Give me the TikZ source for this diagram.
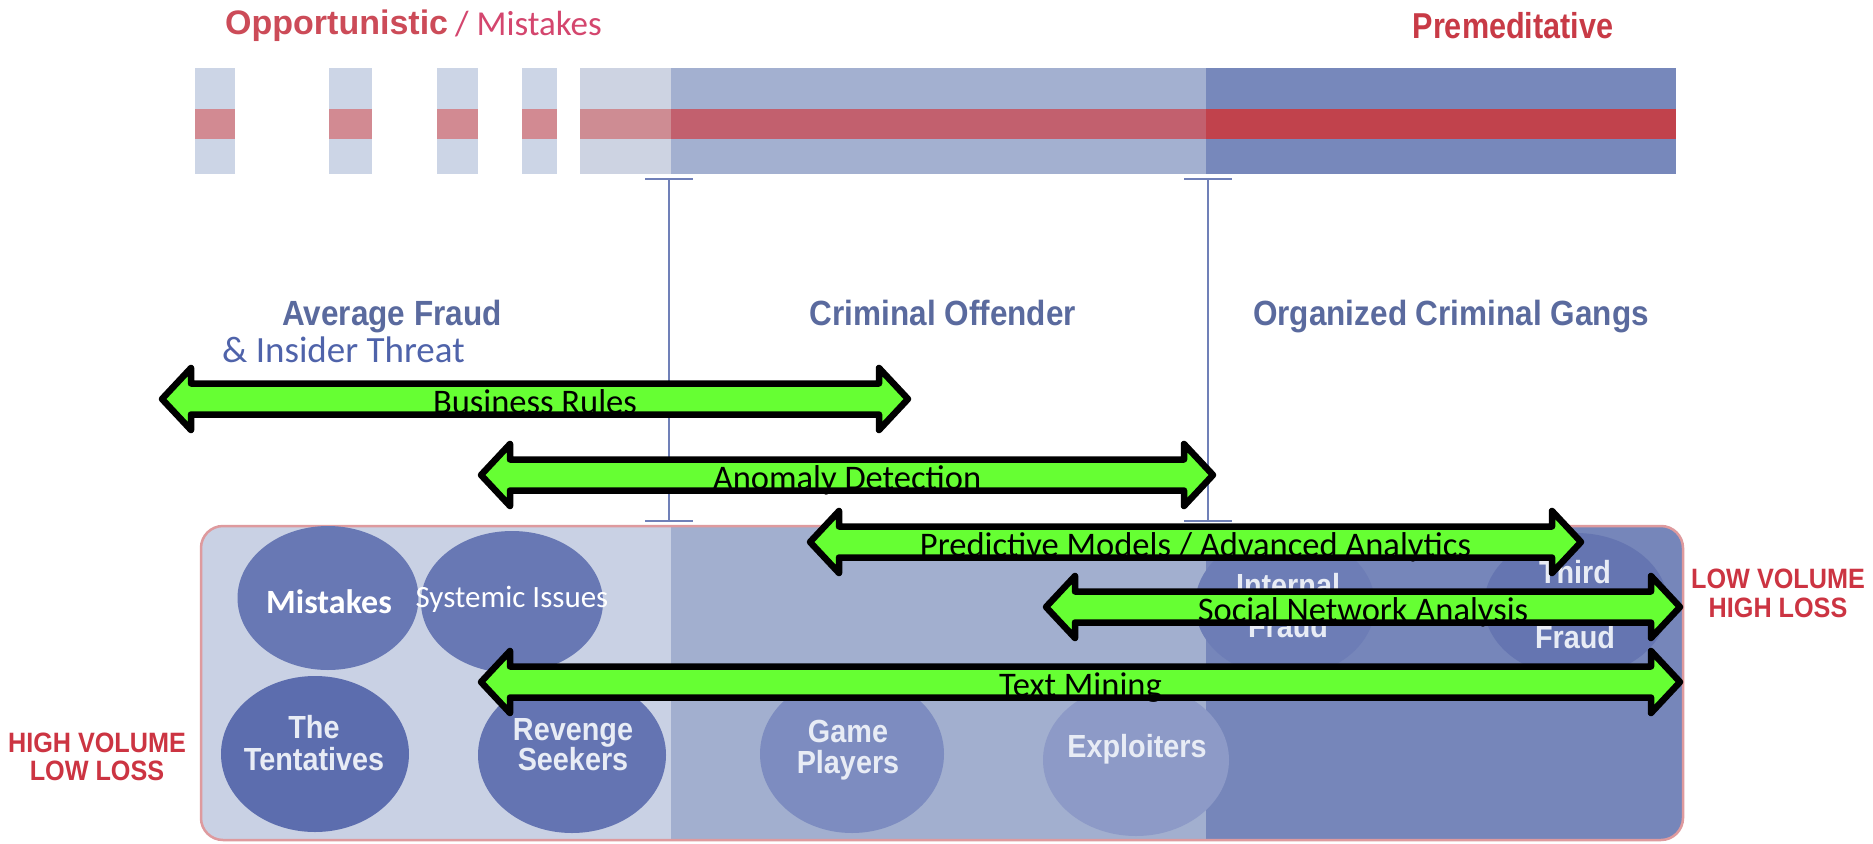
\documentclass[tikz,border=0pt]{standalone}
\usepackage{fontspec}
\usetikzlibrary{shapes.geometric}
\newfontfamily\calibrifont{Carlito}
\newfontfamily\narrowfont[FakeStretch=0.9]{Liberation Sans}
\newfontfamily\tallfont[FakeStretch=0.85]{Liberation Sans}
\newfontfamily\arialfont{Liberation Sans}

\definecolor{barlight}{HTML}{CCD5E6}
\definecolor{redlight}{HTML}{D28A92}
\definecolor{barfade}{HTML}{CDD3E2}
\definecolor{redfade}{HTML}{CE8C93}
\definecolor{barmid}{HTML}{A3B0D0}
\definecolor{redmid}{HTML}{C2606E}
\definecolor{bardark}{HTML}{7788BB}
\definecolor{reddark}{HTML}{C1424C}
\definecolor{boxlight}{HTML}{C9D1E4}
\definecolor{boxmid}{HTML}{A2AFCF}
\definecolor{boxdark}{HTML}{7686BA}
\definecolor{boxedge}{HTML}{DE9A9E}
\definecolor{tbar}{HTML}{7080B8}
\definecolor{catblue}{HTML}{5A6A9E}
\definecolor{insider}{HTML}{4F63AA}
\definecolor{oppred}{HTML}{CC4B58}
\definecolor{mistpink}{HTML}{D4466E}
\definecolor{premred}{HTML}{C83A46}
\definecolor{volred}{HTML}{CC3442}
\definecolor{arrowgreen}{HTML}{66FF33}
\definecolor{bubtop}{HTML}{6878B4}
\definecolor{bubtent}{HTML}{5C6DAE}
\definecolor{bubrev}{HTML}{6474B2}
\definecolor{bubgame}{HTML}{7D8CC0}
\definecolor{bubexp}{HTML}{8D9AC7}
\definecolor{bubint}{HTML}{6D7DB6}
\definecolor{bubthird}{HTML}{6575B1}
\definecolor{bubtxt}{HTML}{E8ECF5}

% double-headed green band with a centred caption
\newcommand{\greenband}[5]{%
  \draw[greenband] (#2+3,#4) -- (#2+32,#4-31) -- (#2+32,#4-15.5)
    -- (#3-32,#4-15.5) -- (#3-32,#4-31) -- (#3-3,#4)
    -- (#3-32,#4+31) -- (#3-32,#4+15.5) -- (#2+32,#4+15.5)
    -- (#2+32,#4+31) -- cycle;
  \node[bandtext] (#1) at ({(#2+#3)/2},#4+14) {#5};
}

\begin{document}
\begin{tikzpicture}[x=1pt,y=-1pt,
  greenband/.style={draw=black, line width=6.5pt, fill=arrowgreen, line join=round},
  bandtext/.style={anchor=base, inner sep=0, font=\calibrifont\fontsize{34.5}{37}\selectfont},
  catlabel/.style={anchor=base, inner sep=0, text=catblue, font=\narrowfont\bfseries\fontsize{35}{38}\selectfont},
  vollabel/.style={anchor=base, inner sep=0, text=volred, font=\narrowfont\bfseries\fontsize{28}{30}\selectfont},
  bubble/.style={ellipse, draw=none, inner sep=0},
  bubtext/.style={anchor=base, inner sep=0, text=bubtxt, font=\narrowfont\bfseries\fontsize{32}{34}\selectfont},
  tbarline/.style={draw=tbar, line width=2.5pt}
]
\useasboundingbox (0,0) rectangle (1873,843);
\fill[white] (0,0) rectangle (1873,843);

% ---- heading words
\node[anchor=base west, inner sep=0, text=oppred, font=\arialfont\bfseries\fontsize{34}{36}\selectfont] (opp) at (225,35) {Opportunistic};
\node[anchor=base west, inner sep=0, text=mistpink, font=\calibrifont\fontsize{35}{37}\selectfont] (mistop) at (455,36) {/ Mistakes};
\node[anchor=base, inner sep=0, text=premred, font=\tallfont\bfseries\fontsize{36}{38}\selectfont] (prem) at (1513,39) {Premeditative};

% ---- intensity bar
\foreach \a/\b in {195/235, 329/372, 437/478, 522/557}{
  \fill[barlight] (\a,68) rectangle (\b,174);
  \fill[redlight] (\a,109) rectangle (\b,139);
}
\fill[barfade] (580,68) rectangle (671,174);
\fill[redfade] (580,109) rectangle (671,139);
\fill[barmid] (671,68) rectangle (1206,174);
\fill[redmid] (671,109) rectangle (1206,139);
\fill[bardark] (1206,68) rectangle (1676,174);
\fill[reddark] (1206,109) rectangle (1676,139);

% ---- T-bar dividers
\coordinate (ta) at (669,179);
\coordinate (tb) at (669,521);
\coordinate (tc) at (1208,179);
\coordinate (td) at (1208,521);
\draw[tbarline] (ta) -- (tb);
\draw[tbarline] (tc) -- (td);
\foreach \p in {ta,tb,tc,td}{
  \draw[tbarline] ([xshift=-24pt]\p) -- ([xshift=24pt]\p);
}

% ---- category labels
\node[catlabel] (avg) at (392,325) {Average Fraud};
\node[catlabel] (crim) at (943,325) {Criminal Offender};
\node[catlabel] (org) at (1451,325) {Organized Criminal Gangs};
\node[anchor=base west, inner sep=0, text=insider, font=\calibrifont\fontsize{37}{40}\selectfont] (ins) at (222,362) {\& Insider Threat};

% ---- population panel
\begin{scope}
  \clip[rounded corners=22pt] (201,526) rectangle (1683,840);
  \fill[boxlight] (201,526) rectangle (671,840);
  \fill[boxmid] (671,526) rectangle (1206,840);
  \fill[boxdark] (1206,526) rectangle (1683,840);
\end{scope}
\draw[boxedge, line width=2.5pt, rounded corners=22pt] (201,526) rectangle (1683,840);

\node[bubble, fill=bubtop, minimum width=181pt, minimum height=144pt] (mis) at (328,598) {};
\node[bubble, fill=bubtop, minimum width=182pt, minimum height=142pt] (sys) at (512,602) {};
\node[bubble, fill=bubtent, minimum width=188pt, minimum height=156pt] (tent) at (315,754) {};
\node[bubble, fill=bubrev, minimum width=188pt, minimum height=156pt] (rev) at (572,755) {};
\node[bubble, fill=bubgame, minimum width=184pt, minimum height=158pt] (game) at (852,754) {};
\node[bubble, fill=bubexp, minimum width=186pt, minimum height=152pt] (expl) at (1136,760) {};
\node[bubble, fill=bubint, minimum width=180pt, minimum height=144pt] (intf) at (1285,605) {};
\node[bubble, fill=bubthird, minimum width=184pt, minimum height=144pt] (thf) at (1576,605) {};

\node[anchor=base, inner sep=0, text=white, font=\calibrifont\bfseries\fontsize{34}{36}\selectfont] (mist) at (329,613) {Mistakes};
\node[anchor=base, inner sep=0, text=white, font=\calibrifont\fontsize{31}{34}\selectfont] (syst) at (512,607) {Systemic Issues};
\node[bubtext] (tent1) at (314,738) {The};
\node[bubtext] (tent2) at (314,770) {Tentatives};
\node[bubtext] (rev1) at (573,740) {Revenge};
\node[bubtext] (rev2) at (573,770) {Seekers};
\node[bubtext] (game1) at (848,742) {Game};
\node[bubtext] (game2) at (848,773) {Players};
\node[bubtext] (expt) at (1137,757) {Exploiters};
\node[bubtext] (int1) at (1288,596) {Internal};
\node[bubtext] (int2) at (1288,637) {Fraud};
\node[bubtext] (thf1) at (1575,583) {Third};
\node[bubtext] (thf2) at (1575,616) {Party};
\node[bubtext] (thf3) at (1575,648) {Fraud};

% ---- volume / loss labels
\node[vollabel] (hv1) at (97,752) {HIGH VOLUME};
\node[vollabel] (hv2) at (97,780) {LOW LOSS};
\node[vollabel] (lv1) at (1778,588) {LOW VOLUME};
\node[vollabel] (lv2) at (1778,617) {HIGH LOSS};

% ---- technique coverage bands
\greenband{br}{159}{911}{399}{Business Rules}
\greenband{ad}{478}{1216}{475}{Anomaly Detection}
\greenband{pm}{807}{1584}{542}{Predictive Models / Advanced Analytics}
\greenband{sna}{1043}{1683}{607}{Social Network Analysis}
\greenband{tm}{478}{1683}{682}{Text Mining}
\end{tikzpicture}
\end{document}
